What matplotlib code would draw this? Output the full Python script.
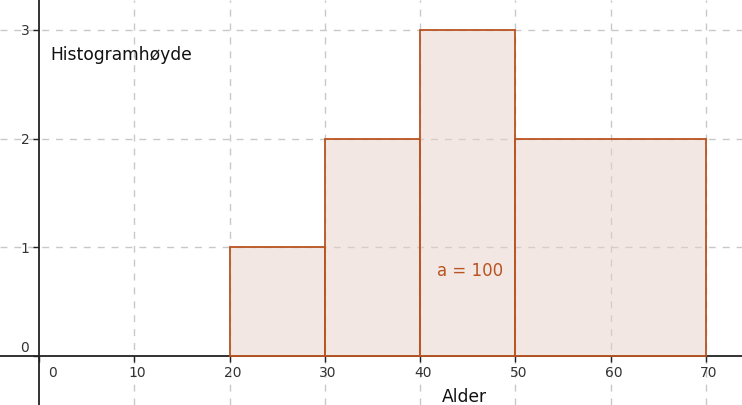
import matplotlib

matplotlib.use("Agg")
import matplotlib.pyplot as plt
from matplotlib.transforms import ScaledTranslation

# histogram data
bin_edges = [20, 30, 40, 50, 70]
heights = [1, 2, 3, 2]
x_ticks = [0, 10, 20, 30, 40, 50, 60, 70]
y_ticks = [0, 1, 2, 3]
x_label = "Alder"
y_label = "Histogramhøyde"
note = "a = 100"

edge_color = "#b9531f"
fill_color = (231 / 255, 209 / 255, 201 / 255, 0.5)
grid_color = "#c8c8c8"
text_color = "#333333"

fig = plt.figure(figsize=(7.42, 4.05), dpi=100)
ax = fig.add_axes([0, 0, 1, 1])
ax.set_xlim(-4.1, 73.8)
ax.set_ylim(-0.45, 3.275)

lefts = bin_edges[:-1]
widths = [b - a for a, b in zip(bin_edges[:-1], bin_edges[1:])]
ax.bar(lefts, heights, width=widths, align="edge", color=fill_color,
       edgecolor=edge_color, linewidth=1.3, zorder=3)

# dashed grid
for xv in x_ticks[1:]:
    ax.axvline(xv, color=grid_color, linestyle=(0, (5, 5)), linewidth=1, zorder=1)
for yv in y_ticks[1:]:
    ax.axhline(yv, color=grid_color, linestyle=(0, (5, 5)), linewidth=1, zorder=1)

# axes through the origin
for side in ("top", "right"):
    ax.spines[side].set_visible(False)
ax.spines["left"].set_position(("data", 0))
ax.spines["bottom"].set_position(("data", 0))
ax.spines["left"].set_color("#222222")
ax.spines["bottom"].set_color("#222222")
ax.spines["left"].set_linewidth(1.3)
ax.spines["bottom"].set_linewidth(1.3)

ax.set_xticks(x_ticks)
ax.set_yticks(y_ticks)
ax.set_xticklabels([str(v) for v in x_ticks])
ax.set_yticklabels([str(v) for v in y_ticks])
ax.tick_params(axis="both", direction="out", length=4, width=1,
               colors="#222222", labelcolor=text_color, labelsize=10)
ax.tick_params(axis="x", pad=3)
ax.tick_params(axis="y", pad=3)

# nudge the origin labels like the original
for lbl in ax.get_xticklabels():
    lbl.set_transform(lbl.get_transform() + ScaledTranslation(3 / 100, 0, fig.dpi_scale_trans))
ax.get_xticklabels()[0].set_transform(
    ax.get_xticklabels()[0].get_transform() + ScaledTranslation(10 / 100, 0, fig.dpi_scale_trans))
ax.get_yticklabels()[0].set_transform(
    ax.get_yticklabels()[0].get_transform() + ScaledTranslation(0, 10 / 100, fig.dpi_scale_trans))

ax.text(1.15, 2.77, y_label, fontsize=12.3, color="#111111", va="center", ha="left")
ax.text(44.7, -0.38, x_label, fontsize=12.3, color="#111111", va="center", ha="center")
ax.text(45.2, 0.78, note, fontsize=12, color=edge_color, va="center", ha="center", zorder=4)

fig.savefig("out.png", dpi=100)
